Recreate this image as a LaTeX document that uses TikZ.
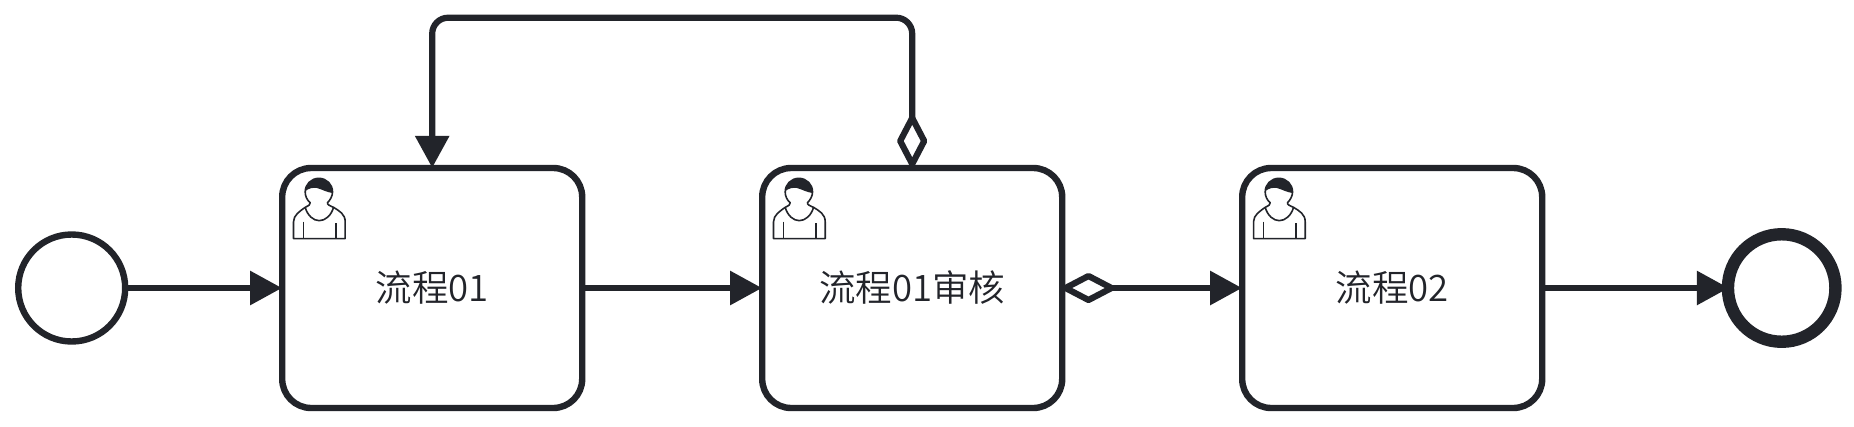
\documentclass[tikz,border=0pt]{standalone}
\usepackage{fontspec}
\setmainfont{Noto Sans CJK SC}[UprightFont=* DemiLight]
\usetikzlibrary{arrows.meta,shapes.geometric}
\definecolor{ink}{HTML}{22242A}
\newcommand{\tasklabel}[1]{\raisebox{3pt}{#1}}
\tikzset{
  x=1pt,y=-1pt,
  every node/.style={text=ink},
  bpmntask/.style={draw=ink,line width=6.4pt,fill=white,rectangle,rounded corners=29pt,
    minimum width=300pt,minimum height=240pt,inner sep=0pt,
    font=\fontsize{36.5}{42}\selectfont},
  startevent/.style={draw=ink,line width=6.4pt,fill=white,circle,minimum size=107pt,inner sep=0pt},
  endevent/.style={draw=ink,line width=12.4pt,fill=white,circle,minimum size=107.5pt,inner sep=0pt},
  condmark/.style={draw=ink,line width=6.2pt,line join=round,fill=white,diamond,inner sep=0pt,outer sep=0pt},
  flow/.style={draw=ink,line width=6.2pt,shorten >=-3pt,-{Triangle[length=32pt,width=33pt]}},
  usericon/.pic={
    \begin{scope}[shift={(-152,-123)},x=.3333pt,y=-.3333pt,draw=ink,line width=1.6pt,line join=round]
      \draw[fill=white] (40,221) -- (40,170) .. controls (40,150) and (60,138) .. (75,127)
        .. controls (85,122) and (92,118) .. (90,113) .. controls (80,105) and (75,93) .. (75,81)
        .. controls (75,58) and (93,40) .. (116,40) .. controls (139,40) and (157,58) .. (157,81)
        .. controls (157,93) and (150,105) .. (142,113) .. controls (140,118) and (148,122) .. (160,127)
        .. controls (178,138) and (195,148) .. (195,170) -- (195,221) -- cycle;
      \draw (75,127) .. controls (82,152) and (100,167) .. (117,167) .. controls (135,167) and (153,152) .. (160,127);
      \draw (70,170) -- (70,221);
      \draw (168,175) -- (168,221);
      \fill[ink] (76,78) .. controls (76,58) and (93,40) .. (116,40) .. controls (139,40) and (157,58) .. (157,84)
        .. controls (140,82) and (125,73) .. (110,69) .. controls (98,67) and (85,70) .. (76,78) -- cycle;
    \end{scope}
  }
}
\begin{document}
\begin{tikzpicture}
  \useasboundingbox[fill=white] (0,0) rectangle (1854,426);
  \node[startevent] (start) at (71.7,288) {};
  \node[bpmntask] (t1) at (432.2,288) {\tasklabel{流程01}};
  \node[bpmntask] (t2) at (912.2,288) {\tasklabel{流程01审核}};
  \node[bpmntask] (t3) at (1392.2,288) {\tasklabel{流程02}};
  \node[endevent] (end) at (1781.7,288) {};
  \pic at (t1.center) {usericon};
  \pic at (t2.center) {usericon};
  \pic at (t3.center) {usericon};
  \coordinate (loopR) at (912.2,17.7);
  \coordinate (loopL) at (432.2,17.7);
  \node[condmark,minimum width=24pt,minimum height=46pt] (mv) at (912.2,141) {};
  \node[condmark,minimum width=46pt,minimum height=24pt] (mh) at (1088.5,288) {};
  \draw[flow] (start) -- (t1);
  \draw[flow] (t1) -- (t2);
  \draw[flow] (mh.east) -- (t3.west);
  \draw[flow,shorten >=-7pt] (t3) -- (end);
  \draw[flow,rounded corners=16pt] (mv.north) -- (loopR) -- (loopL) -- (t1.north);
\end{tikzpicture}
\end{document}
